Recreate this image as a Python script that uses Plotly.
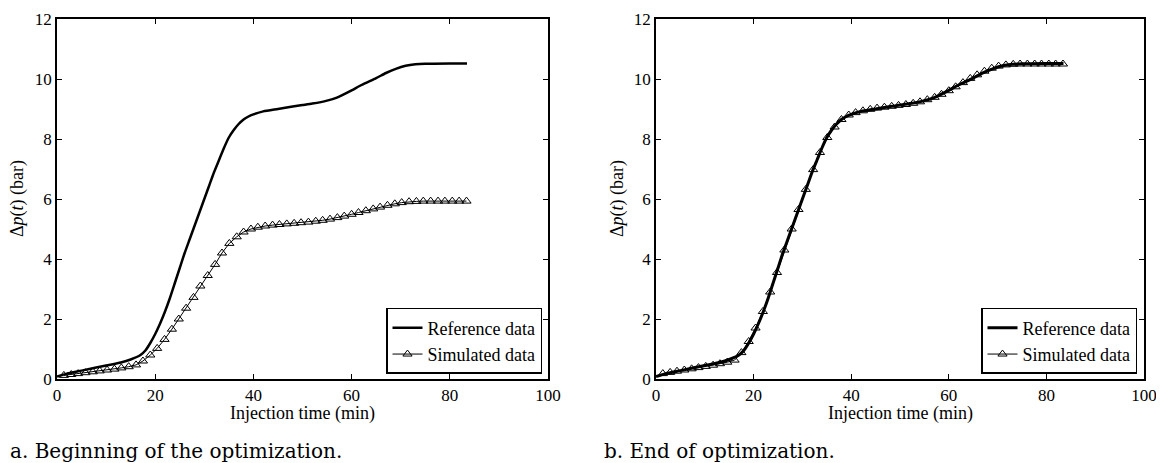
#!/usr/bin/env python3
# Pressure drop vs injection time: start (a) and end (b) of the optimization.

import plotly.graph_objects as go

# Reference data (same measured curve in both panels)
ref_time = [0, 2, 5, 10, 13, 15, 17, 18, 19, 20, 21, 22, 23, 24, 25, 26, 27, 28, 29, 30,
            31, 32, 33, 34, 35, 36, 37, 38, 39, 40, 42, 45, 48, 50, 52, 55, 57, 60, 62,
            65, 67, 69, 71, 73, 75, 80, 83.5]
ref_dp = [0.08, 0.18, 0.28, 0.45, 0.55, 0.65, 0.80, 0.95, 1.20, 1.50, 1.85, 2.25, 2.70,
          3.20, 3.70, 4.20, 4.65, 5.10, 5.55, 6.00, 6.45, 6.90, 7.30, 7.70, 8.05, 8.30,
          8.50, 8.65, 8.75, 8.82, 8.92, 9.00, 9.08, 9.13, 9.18, 9.28, 9.38, 9.62, 9.80,
          10.03, 10.20, 10.34, 10.44, 10.49, 10.51, 10.52, 10.52]

# Simulated data sample times (min)
sim_time = [1.4, 2.9, 4.3, 5.8, 7.3, 8.7, 10.2, 11.7, 13.1, 14.6, 16.1, 17.5, 19.0, 20.4,
            21.9, 23.4, 24.8, 26.3, 27.8, 29.2, 30.7, 32.2, 33.6, 35.1, 36.6, 38.0, 39.5,
            40.9, 42.4, 43.9, 45.3, 46.8, 48.3, 49.7, 51.2, 52.7, 54.1, 55.6, 57.1, 58.5,
            60.0, 61.4, 62.9, 64.4, 65.8, 67.3, 68.8, 70.2, 71.7, 73.2, 74.6, 76.1, 77.6,
            79.0, 80.5, 81.9, 83.4]

# (a) beginning of the optimization
sim_dp_start = [0.12, 0.15, 0.18, 0.21, 0.24, 0.27, 0.30, 0.33, 0.37, 0.41, 0.47, 0.60,
                0.80, 1.02, 1.32, 1.66, 2.00, 2.36, 2.72, 3.10, 3.45, 3.82, 4.20, 4.52,
                4.74, 4.90, 5.00, 5.06, 5.10, 5.13, 5.15, 5.17, 5.19, 5.21, 5.23, 5.26,
                5.29, 5.33, 5.38, 5.43, 5.49, 5.55, 5.61, 5.67, 5.73, 5.79, 5.84, 5.88,
                5.91, 5.92, 5.93, 5.93, 5.93, 5.93, 5.93, 5.93, 5.93]

# (b) end of the optimization
sim_dp_end = [0.18, 0.22, 0.26, 0.30, 0.34, 0.38, 0.42, 0.46, 0.51, 0.56, 0.63, 0.88,
              1.25, 1.70, 2.25, 2.90, 3.55, 4.30, 5.00, 5.65, 6.32, 6.98, 7.55, 8.05,
              8.40, 8.65, 8.80, 8.88, 8.94, 8.99, 9.03, 9.06, 9.09, 9.12, 9.15, 9.19,
              9.24, 9.31, 9.39, 9.49, 9.61, 9.74, 9.88, 10.02, 10.14, 10.26, 10.36,
              10.43, 10.47, 10.49, 10.50, 10.50, 10.50, 10.50, 10.50, 10.50, 10.50]

# page body adds an 8px margin, so the figure is a bit smaller than the window
W, H = 1156, 455
FONT = "Liberation Serif, Times New Roman, Times, serif"

fig = go.Figure()

panels = [
    ("x", "y", "legend", sim_dp_start, 2.5),
    ("x2", "y2", "legend2", sim_dp_end, 3),
]
for xa, ya, leg, sim, lw in panels:
    fig.add_trace(go.Scatter(
        x=ref_time, y=ref_dp, mode="lines", name="Reference data",
        line=dict(color="black", width=lw, shape="spline", smoothing=0.6),
        xaxis=xa, yaxis=ya, legend=leg))
    fig.add_trace(go.Scatter(
        x=sim_time, y=sim, mode="lines+markers", name="Simulated data",
        line=dict(color="black", width=1),
        marker=dict(symbol="triangle-up-open", size=8, color="black",
                    line=dict(width=1)),
        xaxis=xa, yaxis=ya, legend=leg))

axis_style = dict(
    showline=True, linecolor="black", linewidth=1.5, mirror="ticks",
    ticks="inside", ticklen=5, tickcolor="black", tickwidth=1,
    showgrid=False, zeroline=False, automargin=False,
    tickfont=dict(family=FONT, size=17, color="black"),
)

legend_style = dict(
    xanchor="right", yanchor="bottom", y=0.014,
    bgcolor="white", bordercolor="black", borderwidth=1.5,
    font=dict(family=FONT, size=18, color="black"),
    tracegroupgap=0, itemwidth=30,
)

fig.update_layout(
    width=W, height=H,
    margin=dict(l=0, r=0, t=11, b=84, autoexpand=False),
    plot_bgcolor="white", paper_bgcolor="white",
    xaxis=dict(domain=[49 / W, 540 / W], range=[0, 100], dtick=20, anchor="y", **axis_style),
    yaxis=dict(domain=[0, 1], range=[0, 12], dtick=2, anchor="x", **axis_style),
    xaxis2=dict(domain=[648 / W, 1136 / W], range=[0, 100], dtick=20, anchor="y2", **axis_style),
    yaxis2=dict(domain=[0, 1], range=[0, 12], dtick=2, anchor="x2", **axis_style),
    legend=dict(x=534 / W, **legend_style),
    legend2=dict(x=1129 / W, **legend_style),
)

titles = [
    (294.5 / W, -0.096, "Injection time (min)", 0),
    (892 / W, -0.096, "Injection time (min)", 0),
    (9 / W, 0.5, "Δ<i>p</i>(<i>t</i>) (bar)", -90),
    (609 / W, 0.5, "Δ<i>p</i>(<i>t</i>) (bar)", -90),
]
for x, y, text, ang in titles:
    fig.add_annotation(x=x, y=y, xref="paper", yref="paper", text=text,
                       textangle=ang, showarrow=False, xanchor="center", yanchor="middle",
                       font=dict(family=FONT, size=18, color="black"))

captions = [(0, "a. Beginning of the optimization."), (594 / W, "b. End of optimization.")]
for x, text in captions:
    fig.add_annotation(x=x, y=-0.2, xref="paper", yref="paper", text=text,
                       showarrow=False, xanchor="left", yanchor="middle",
                       font=dict(family="DejaVu Serif", size=20, color="black"))

fig.write_html("out.html")
